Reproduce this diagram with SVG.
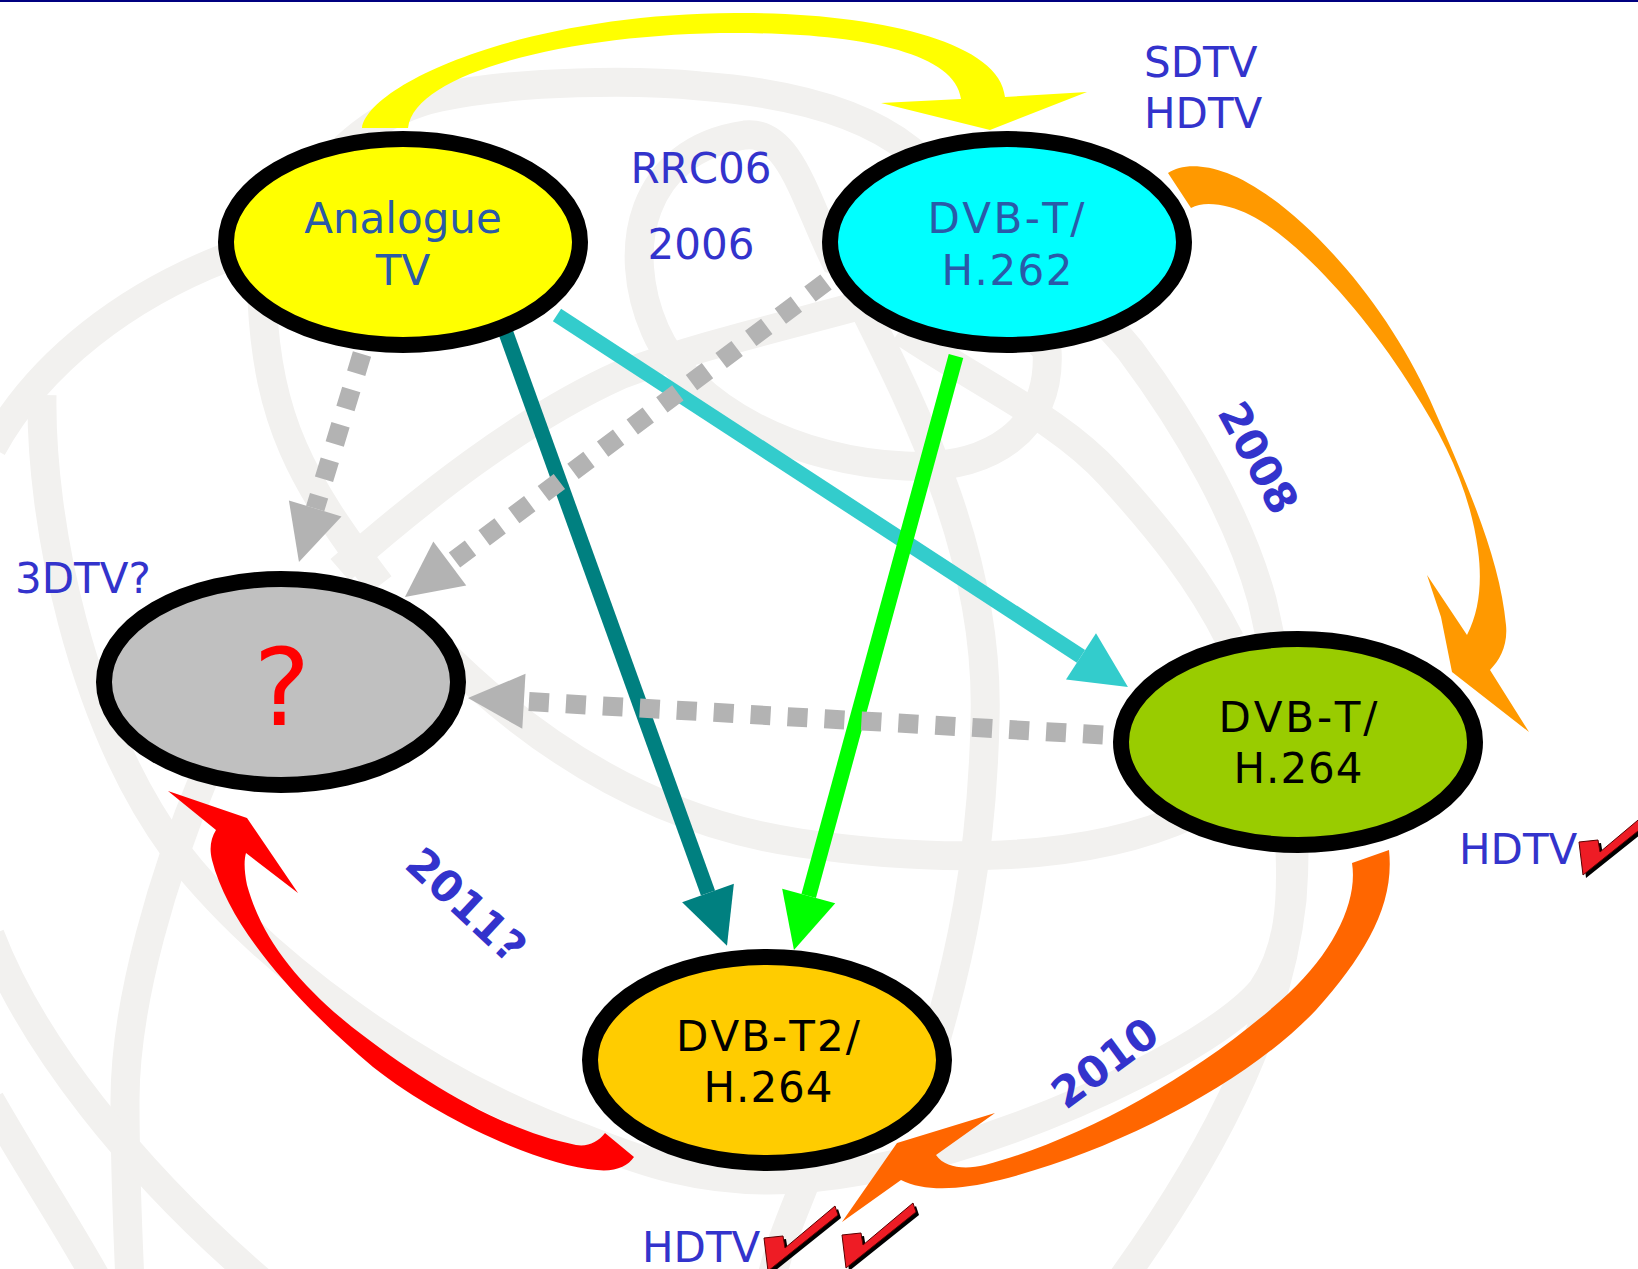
<svg xmlns="http://www.w3.org/2000/svg" width="1638" height="1269" viewBox="0 0 1638 1269">
<style>
.bg{fill:none;stroke:#f2f1ef;stroke-width:29}
.node{stroke:#000;stroke-width:16}
text{font-kerning:none}
.nt{font-family:"DejaVu Sans",sans-serif;font-size:42px;text-anchor:middle}
.lbl{font-family:"DejaVu Sans",sans-serif;font-size:42px;fill:#3333cc}
.yr{font-family:"DejaVu Sans",sans-serif;font-size:43px;font-weight:bold;fill:#3333cc;text-anchor:middle}
.ln{fill:none;stroke-linecap:butt;stroke-width:15}
.dash{fill:none;stroke:#b3b3b3;stroke-width:19;stroke-dasharray:20 17}
</style>
<defs>
<marker id="ah-teal" markerUnits="userSpaceOnUse" markerWidth="60" markerHeight="60" viewBox="0 -30 60 60" refX="0" refY="0" orient="auto" overflow="visible"><path d="M0,-27.5 L56,0 L0,27.5 Z" fill="#008080" stroke="none"/></marker>
<marker id="ah-green" markerUnits="userSpaceOnUse" markerWidth="60" markerHeight="60" viewBox="0 -30 60 60" refX="0" refY="0" orient="auto" overflow="visible"><path d="M0,-27.5 L56,0 L0,27.5 Z" fill="#00ff00" stroke="none"/></marker>
<marker id="ah-cyan" markerUnits="userSpaceOnUse" markerWidth="60" markerHeight="60" viewBox="0 -30 60 60" refX="0" refY="0" orient="auto" overflow="visible"><path d="M0,-27.5 L56,0 L0,27.5 Z" fill="#33cccc" stroke="none"/></marker>
<marker id="ah-gray" markerUnits="userSpaceOnUse" markerWidth="60" markerHeight="60" viewBox="0 -30 60 60" refX="0" refY="0" orient="auto" overflow="visible"><path d="M0,-27.5 L56,0 L0,27.5 Z" fill="#b3b3b3" stroke="none"/></marker>
<g id="tick">
<polygon points="3,35 22,33 24,45 74,3 77,12 7,68" fill="#000"/>
<polygon points="0,32 19,30 21,42 71,0 74,9 4,65" fill="#ee1c25" stroke="#5a0000" stroke-width="1"/>
</g>
</defs>
<rect width="1638" height="1269" fill="#fff"/>
<rect width="1638" height="2" fill="#000080"/>
<g id="background">
<path class="bg" d="M-8,448 C40,360 130,295 225,258 C300,225 330,120 440,97 C520,80 640,80 700,86 C780,92 860,110 910,150 C1000,220 1080,290 1130,350 C1190,430 1240,520 1262,600 C1285,700 1300,800 1292,900 C1280,1010 1230,1130 1118,1285"/>
<path class="bg" d="M42,395 C40,520 80,720 175,850 C260,960 420,1080 585,1139 C650,1165 700,1180 768,1180 C830,1180 900,1165 951,1149 C1080,1110 1220,1040 1262,990 C1290,950 1292,900 1290,850"/>
<path class="bg" d="M205,775 C165,870 125,1000 125,1100 C125,1180 128,1230 130,1285"/>
<path class="bg" d="M-10,935 C30,1040 130,1170 265,1285"/>
<path class="bg" d="M-10,1100 C30,1170 70,1230 100,1285"/>
<path class="bg" d="M262,300 C268,420 300,480 380,585"/>
<path class="bg" d="M340,570 C420,500 520,420 620,375 C700,345 790,325 880,300"/>
<path class="bg" d="M440,650 C520,730 640,820 800,843 C930,862 1080,865 1190,815"/>
<path class="bg" d="M900,330 C990,390 1060,420 1110,475 C1160,530 1200,580 1230,640"/>
<path class="bg" d="M860,300 C920,420 990,560 985,720 C982,860 960,960 930,1060"/>
<path class="bg" d="M1047,350 C1052,430 990,470 905,466 C800,462 690,410 655,330 C620,250 640,150 745,135 C790,130 805,200 835,260 C900,280 1000,300 1047,350 Z"/>
<path class="bg" d="M810,1170 C795,1210 780,1240 770,1285"/>
</g>
<g id="connectors">
<path id="c-analogue-dvbt262" d="M362,128 C368,85 520,14 735,13 C870,12 1000,40 1005,97 L1087,92 L990,130 L881,103 L961,99 C955,50 850,33 735,33 C580,33 415,70 408,128 Z" fill="#ffff00"/>
<path id="c-dvbt262-dvbt264" d="M1168,173 C1180,165 1200,163 1227,173 C1290,197 1380,290 1430,400 C1470,490 1500,560 1506,625 C1508,645 1500,660 1490,670 L1529,732 L1452,672 L1441,617 L1427,575 L1467,635 C1480,610 1482,580 1478,550 C1470,490 1445,440 1413,390 C1370,320 1300,240 1250,215 C1230,205 1205,200 1191,208 Z" fill="#ff9900"/>
<path id="c-dvbt264-dvbt2" d="M1389,850 C1395,905 1365,955 1316,1010 C1250,1080 1120,1150 1000,1180 C960,1190 925,1192 901,1180 L842,1222 L897,1143 L995,1113 L936,1155 C945,1168 965,1170 985,1165 C1080,1140 1200,1075 1289,993 C1335,950 1358,900 1352,863 Z" fill="#ff6600"/>
<path id="c-dvbt2-unknown" d="M634,1157 C628,1166 615,1172 597,1170 C540,1165 440,1120 373,1067 C300,1005 230,930 212,860 C209,848 211,838 216,830 L168,791 L247,818 L298,893 L246,853 C244,860 244,870 247,885 C262,940 300,985 352,1027 C420,1080 500,1130 576,1145 C588,1147 598,1142 605,1133 Z" fill="#ff0000"/>
<path id="c-analogue-dvbt264" class="ln" d="M557,315 L1081,656.4" stroke="#33cccc" marker-end="url(#ah-cyan)"/>
<path id="c-analogue-dvbt2" class="ln" d="M506,333 L708,893" stroke="#008080" marker-end="url(#ah-teal)"/>
<path id="c-dvbt262-dvbt2" class="ln" d="M956,356 L808.7,896" stroke="#00ff00" marker-end="url(#ah-green)"/>
<path id="c-analogue-unknown" class="dash" d="M362,354 L315.2,508.4" marker-end="url(#ah-gray)"/>
<path id="c-dvbt262-unknown" class="dash" d="M826,282 L449.8,563.5" marker-end="url(#ah-gray)"/>
<path id="c-dvbt264-unknown" class="dash" d="M1103,735 L523.9,701.3" marker-end="url(#ah-gray)"/>
</g>
<g id="node-analogue">
<ellipse class="node" cx="403" cy="242" rx="177" ry="103" fill="#ffff00"/>
<text class="nt" x="403" y="233" fill="#2a5aa8">Analogue</text>
<text class="nt" x="403" y="285" fill="#2a5aa8">TV</text>
</g>
<g id="node-dvbt262">
<ellipse class="node" cx="1007" cy="242" rx="177" ry="103" fill="#00ffff"/>
<text class="nt" x="1006" y="233" fill="#2a5aa8" textLength="157">DVB-T/</text>
<text class="nt" x="1007" y="285" fill="#2a5aa8" textLength="131">H.262</text>
</g>
<g id="node-unknown">
<ellipse class="node" cx="281" cy="682" rx="177" ry="103" fill="#c0c0c0"/>
<text x="282" y="725" font-family="DejaVu Sans, sans-serif" font-size="107" fill="#ff0000" text-anchor="middle">?</text>
</g>
<g id="node-dvbt264">
<ellipse class="node" cx="1298" cy="742" rx="177" ry="103" fill="#99cc00"/>
<text class="nt" x="1298" y="732" fill="#000" textLength="159">DVB-T/</text>
<text class="nt" x="1298" y="783" fill="#000" textLength="129">H.264</text>
</g>
<g id="node-dvbt2">
<ellipse class="node" cx="767" cy="1060" rx="177" ry="103" fill="#ffcc00"/>
<text class="nt" x="768" y="1051" fill="#000" textLength="184">DVB-T2/</text>
<text class="nt" x="768" y="1102" fill="#000" textLength="129">H.264</text>
</g>
<g id="labels">
<text class="lbl" x="701" y="183" text-anchor="middle">RRC06</text>
<text class="lbl" x="701" y="259" text-anchor="middle">2006</text>
<text class="lbl" x="1144" y="77">SDTV</text>
<text class="lbl" x="1144" y="128">HDTV</text>
<text class="lbl" x="15" y="593">3DTV?</text>
<text class="lbl" x="1459" y="864">HDTV</text>
<text class="lbl" x="642" y="1262">HDTV</text>
<text class="yr" transform="translate(1245,465) rotate(61.7)">2008</text>
<text class="yr" transform="translate(1114,1075) rotate(-36.4)">2010</text>
<text class="yr" transform="translate(456,916) rotate(43)">2011?</text>
<use href="#tick" x="1579" y="810"/>
<use href="#tick" x="764" y="1206"/>
<use href="#tick" x="842" y="1203"/>
</g>
</svg>
